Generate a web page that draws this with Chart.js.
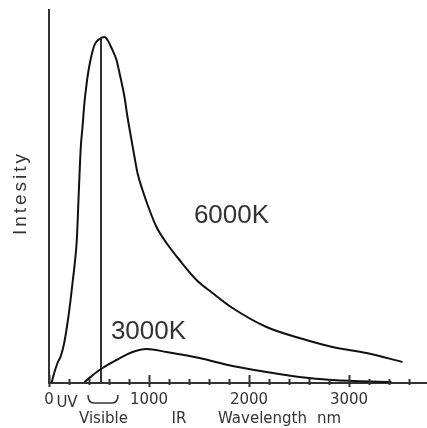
<!DOCTYPE html>
<html>
<head>
<meta charset="utf-8">
<script src="https://cdn.jsdelivr.net/npm/chart.js@4.4.1/dist/chart.umd.min.js"></script>
<style>
  html, body { margin: 0; padding: 0; background: #fff; }
  canvas { display: block; }
</style>
</head>
<body>
<canvas id="chart" width="427" height="428"></canvas>
<script>
// data (wavelength in nm, intensity in arbitrary units)
const wave6000 = [25, 52, 85, 118, 152, 185, 212, 235, 258, 278, 302, 318, 335, 355, 370, 385, 415, 455, 505, 555, 585, 625, 675, 705, 755, 785, 825, 855, 885, 935, 1005, 1075, 1175, 1305, 1475, 1635, 1835, 2175, 2505, 2835, 3175, 3535];
const int6000 = [0, 10, 20, 27, 40, 60, 80, 100, 120, 143, 201, 236, 256, 281, 294, 306, 323, 338, 344, 346, 343, 335, 323, 310, 286, 266, 243, 226, 210, 193, 173, 156, 140, 123, 103, 90, 75, 56, 45, 36, 30, 21];
const wave3000 = [355, 505, 675, 835, 975, 1175, 1505, 1835, 2175, 2505, 2835, 3425];
const int3000 = [1, 13, 23, 31, 34, 31, 25, 17, 11, 6, 3, 1];
// vertical marker in the visible band
const markerWave = [520, 520];
const markerInt = [0, 344];

const majorTicks = [0, 1000, 2000, 3000];
const visibleBand = [390, 690];

const pts = (xs, ys) => xs.map((x, i) => ({ x: x, y: ys[i] }));

// extra axis text, ticks and curve labels
const decorations = {
  id: "decorations",
  afterDraw(chart) {
    const c = chart.ctx;
    const xs = chart.scales.x;
    const ys = chart.scales.y;
    const base = ys.getPixelForValue(0);
    c.save();
    // tick marks across the axis
    c.strokeStyle = "#333";
    c.lineWidth = 2;
    for (let v = 0; v <= 3600; v += 200) {
      const px = Math.round(xs.getPixelForValue(v)) + 0.5;
      const major = v % 1000 === 0;
      c.beginPath();
      c.moveTo(px, base - (major ? 8 : 4));
      c.lineTo(px, base + (major ? 4 : 2));
      c.stroke();
    }
    // brace under the visible band
    const b0 = xs.getPixelForValue(visibleBand[0]);
    const b1 = xs.getPixelForValue(visibleBand[1]);
    c.lineWidth = 1.5;
    c.beginPath();
    c.moveTo(b0, base + 12);
    c.quadraticCurveTo(b0, base + 20, b0 + 6, base + 20);
    c.lineTo(b1 - 6, base + 20);
    c.quadraticCurveTo(b1, base + 20, b1, base + 12);
    c.stroke();

    c.fillStyle = "#333";
    c.font = "15px 'DejaVu Sans'";
    c.textBaseline = "alphabetic";
    c.textAlign = "center";
    c.fillText("UV", xs.getPixelForValue(180), base + 24);
    c.fillText("Visible", xs.getPixelForValue(545), base + 40);
    c.fillText("IR", xs.getPixelForValue(1300), base + 40);
    c.textAlign = "left";
    c.fillText("Wavelength", xs.getPixelForValue(1690), base + 40);
    c.fillText("nm", xs.getPixelForValue(2680), base + 40);

    // curve labels
    c.font = "26px 'Liberation Sans'";
    c.textAlign = "center";
    c.textBaseline = "middle";
    c.fillText("6000K", xs.getPixelForValue(1825), ys.getPixelForValue(167));
    c.fillText("3000K", xs.getPixelForValue(995), ys.getPixelForValue(51));

    // y axis title
    c.font = "19px 'Liberation Sans'";
    c.letterSpacing = "3px";
    c.translate(21, ys.getPixelForValue(190));
    c.rotate(-Math.PI / 2);
    c.fillText("Intesity", 0, 0);
    c.restore();
  }
};

new Chart(document.getElementById("chart"), {
  type: "scatter",
  data: {
    datasets: [
      { label: "6000K", data: pts(wave6000, int6000), showLine: true, borderColor: "#111", borderWidth: 2, pointRadius: 0, cubicInterpolationMode: "monotone" },
      { label: "3000K", data: pts(wave3000, int3000), showLine: true, borderColor: "#111", borderWidth: 2, pointRadius: 0, cubicInterpolationMode: "monotone" },
      { label: "visible", data: pts(markerWave, markerInt), showLine: true, borderColor: "#333", borderWidth: 2, pointRadius: 0 }
    ]
  },
  options: {
    responsive: false,
    animation: false,
    layout: { padding: { top: 10, right: 0, left: 0, bottom: 0 } },
    plugins: { legend: { display: false }, tooltip: { enabled: false } },
    scales: {
      x: {
        type: "linear",
        min: 0,
        max: 3780,
        grid: { display: false, drawTicks: false },
        border: { display: true, color: "#333", width: 2 },
        ticks: {
          autoSkip: false,
          maxRotation: 0,
          padding: 8,
          color: "#333",
          font: { family: "DejaVu Sans", size: 15 },
          callback: (v) => String(v)
        },
        afterBuildTicks: (s) => { s.ticks = majorTicks.map(v => ({ value: v })); },
        afterFit: (s) => { s.height = 45; }
      },
      y: {
        type: "linear",
        min: 0,
        max: 373,
        grid: { display: false, drawTicks: false },
        border: { display: true, color: "#333", width: 2 },
        ticks: { display: false },
        afterFit: (s) => { s.width = 49; }
      }
    }
  },
  plugins: [decorations]
});
</script>
</body>
</html>
